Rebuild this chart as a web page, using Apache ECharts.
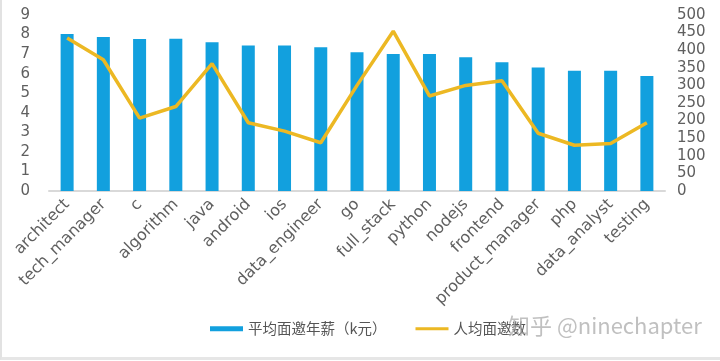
<!DOCTYPE html>
<html><head><meta charset="utf-8">
<script src="https://cdn.jsdelivr.net/npm/echarts@6/dist/echarts.min.js"></script>
<style>html,body{margin:0;padding:0;background:#fff;}#c{width:720px;height:361px;}
#frame{position:absolute;left:0;top:0;width:718px;height:357px;border-left:2px solid #e2e2e2;border-bottom:3px solid #e6e6e6;pointer-events:none;}</style>
</head><body><div id="c"></div><div id="frame"></div>
<script>
var categories = ['architect','tech_manager','c','algorithm','java','android','ios','data_engineer','go','full_stack','python','nodejs','frontend','product_manager','php','data_analyst','testing'];
var salary = [8.03, 7.87, 7.77, 7.78, 7.61, 7.44, 7.44, 7.35, 7.10, 7.00, 7.00, 6.84, 6.58, 6.31, 6.15, 6.15, 5.88];
var interviews = [435, 373, 207, 240, 362, 194, 170, 137, 300, 454, 270, 300, 313, 164, 130, 135, 194];
var leftTicks = [0, 9, 1];
var rightTicks = [0, 500, 50];
var seriesNames = ['平均面邀年薪（k元）', '人均面邀数'];
var watermark = '知乎 @ninechapter';

var chart = echarts.init(document.getElementById('c'));
var axisFont = {fontFamily: 'DejaVu Sans', color: '#5f5f5f', fontSize: 15};
chart.setOption({
  backgroundColor: '#fff',
  animation: false,
  grid: {left: 49, right: 55, top: 15, bottom: 170},
  legend: {
    bottom: 20, left: 205, itemGap: 29, itemWidth: 33, itemHeight: 5,
    textStyle: {fontFamily: 'Noto Sans CJK SC', fontSize: 14.5, color: '#555'},
    data: [{name: seriesNames[0], icon: 'rect'},
           {name: seriesNames[1], icon: 'path://M0,0.9 L33,0.9 L33,4.1 L0,4.1 Z M0,0 L0.001,0 L0.001,5 L0,5 Z'}]
  },
  xAxis: {
    type: 'category', data: categories,
    axisLine: {lineStyle: {color: '#d9d9d9', width: 2}},
    axisTick: {show: false},
    axisLabel: Object.assign({rotate: 45, interval: 0, margin: 11}, axisFont, {fontSize: 16})
  },
  yAxis: [
    {type: 'value', min: leftTicks[0], max: leftTicks[1], interval: leftTicks[2],
     splitLine: {show: false}, axisLine: {show: false}, axisTick: {show: false},
     axisLabel: Object.assign({margin: 19}, axisFont)},
    {type: 'value', min: rightTicks[0], max: rightTicks[1], interval: rightTicks[2],
     splitLine: {show: false}, axisLine: {show: false}, axisTick: {show: false},
     axisLabel: Object.assign({margin: 12}, axisFont)}
  ],
  series: [
    {name: seriesNames[0], type: 'bar', data: salary, barWidth: 13, itemStyle: {color: '#12a0de'}},
    {name: seriesNames[1], type: 'line', yAxisIndex: 1, data: interviews, symbol: 'none',
     lineStyle: {color: '#ecb823', width: 3.5}, itemStyle: {color: '#ecb823'}}
  ],
  graphic: [{type: 'text', x: 508, y: 315, silent: true, z: 100,
    style: {text: watermark, fill: 'rgba(165,165,165,0.7)', font: '22px "Noto Sans CJK SC"'}}]
});
</script></body></html>
